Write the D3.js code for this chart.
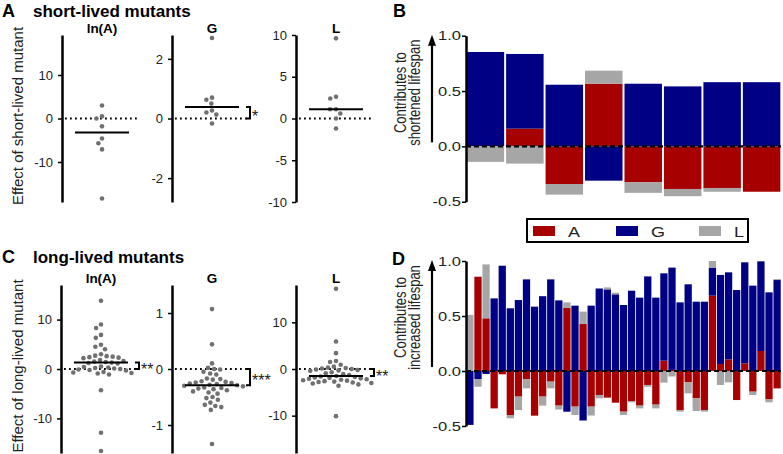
<!DOCTYPE html>
<html>
<head>
<meta charset="utf-8">
<script src="https://cdn.jsdelivr.net/npm/d3@7"></script>
<style>
  body { margin: 0; background: #fff; }
  svg { display: block; font-family: "Liberation Sans", Arial, sans-serif; }
</style>
</head>
<body>
<svg id="fig" width="783" height="454"></svg>
<script>
// effect of each mutant, short-lived (8) and long-lived (39)
const shortA = [3.0, 0.5, 0.0, -1.8, -4.6, -5.7, -7.1, -18.4]
const shortG = [2.7, 0.7, 0.63, 0.5, 0.27, 0.2, 0.13, -0.17]
const shortL = [9.6, 2.6, 2.4, 1.1, 1.1, 0.6, 0.0, -1.2]

const longA = [13.8, 9.0, 8.3, 6.9, 6.3, 4.9, 4.5, 4.0, 3.0, 2.7, 2.6, 2.5, 2.4, 2.3, 2.2,
  1.8, 1.6, 1.5, 1.4, 1.3, 1.2, 1.1, 0.5, 0.4, 0.3, 0.2, 0.1, 0.0, -0.1, -0.2, -0.3,
  -0.6, -0.7, -0.8, -0.9, -1.1, -4.3, -12.9, -16.6]
const longG = [1.07, 0.44, 0.10, 0.02, 0.0, -0.01, -0.05, -0.08, -0.1, -0.17, -0.18, -0.19,
  -0.22, -0.23, -0.24, -0.25, -0.26, -0.27, -0.28, -0.29, -0.30, -0.31, -0.33, -0.34, -0.35,
  -0.36, -0.38, -0.40, -0.42, -0.44, -0.50, -0.52, -0.55, -0.60, -0.64, -0.66, -0.73, -0.68, -1.34]
const longL = [17.2, 5.9, 3.4, 1.7, 1.5, 0.9, 0.5, 0.3, 0.2, 0.1, 0.0, -0.1, -0.2, -0.3, -0.4,
  -0.7, -0.9, -1.1, -1.3, -1.5, -1.6, -1.7, -1.8, -1.9, -2.0, -2.1, -2.2, -2.3, -2.4, -2.5,
  -2.6, -2.7, -2.8, -2.9, -3.0, -3.1, -3.3, -3.6, -10.1]

// relative contributions (B: short-lived, D: long-lived)
const keys = ['A', 'G', 'L']
const shortContribA = [0, 0.16, -0.34, 0.566, -0.325, -0.385, -0.376, -0.41]
const shortContribG = [0.853, 0.675, 0.557, -0.31, 0.566, 0.542, 0.58, 0.58]
const shortContribL = [-0.14, -0.156, -0.096, 0.118, -0.095, -0.065, -0.034, 0]

const longContribA = [0, 0.857, 0.479, -0.34, -0.03, -0.40, -0.233, -0.073, -0.406, -0.233,
  -0.097, -0.315, 0.576, -0.324, 0.427, -0.324, -0.218, -0.242, -0.288, -0.37, -0.273, -0.315,
  -0.127, -0.306, 0.094, 0.01, -0.355, -0.103, -0.248, -0.355, 0.685, 0.064, 0.106, -0.264,
  0.07, -0.188, 0.182, -0.258, -0.158]
const longContribG = [-0.49, -0.073, -0.027, 0.66, 0.957, 0.57, 0.645, 0.833, 0.585, 0.68,
  0.833, 0.642, -0.37, 0.594, -0.45, 0.594, 0.75, 0.742, 0.697, 0.60, 0.73, 0.667, 0.86,
  0.667, 0.794, 0.93, 0.624, 0.788, 0.63, 0.63, 0.255, 0.809, 0.791, 0.736, 0.918, 0.776,
  0.815, 0.715, 0.827]
const longContribL = [0.51, -0.07, 0.49, 0, 0, -0.03, -0.122, -0.085, 0, -0.082, -0.061,
  -0.035, 0.048, -0.076, 0.113, -0.081, -0.03, 0.018, 0.015, -0.03, -0.012, -0.025, -0.016,
  -0.034, -0.106, -0.05, -0.015, -0.10, -0.116, -0.015, 0.06, -0.127, -0.103, 0, 0, -0.03,
  0, -0.027, 0.009]

const colors = { A: '#a60000', G: '#000084', L: '#a6a6a6' }
const SX = 1.27 // right panels are horizontally stretched

const svg = d3.select('#fig')

function beeswarm(values, y, cx, d) {
  const pts = []
  values.map(v => ({ v, y: y(v) })).sort((a, b) => a.y - b.y).forEach(p => {
    const near = pts.filter(q => Math.abs(q.y - p.y) < d)
    const cands = [0]
    near.forEach(q => {
      const w = Math.sqrt(d * d - (q.y - p.y) ** 2)
      cands.push(q.dx - w, q.dx + w)
    })
    cands.sort((a, b) => Math.abs(a) - Math.abs(b))
    p.dx = cands.find(c => near.every(q => (q.dx - c) ** 2 + (q.y - p.y) ** 2 >= d * d - 0.01))
    pts.push(p)
  })
  return pts.map(p => ({ v: p.v, x: cx + p.dx, y: p.y }))
}

function dotPlot(cfg, top, bottom) {
  const y = d3.scaleLinear().domain(cfg.domain).range([bottom, top])
  const cx = cfg.axisX + 40
  const g = svg.append('g')

  g.append('g')
    .attr('transform', `translate(${cfg.axisX},0)`)
    .call(d3.axisLeft(y).tickValues(cfg.ticks).tickFormat(d => String(d)).tickSize(4).tickPadding(5).tickSizeOuter(0))
    .call(a => a.select('.domain').attr('stroke-width', 2.5))
    .call(a => a.selectAll('.tick line').attr('stroke-width', 1.5))
    .call(a => a.selectAll('text').attr('font-size', 13).attr('fill', '#222'))

  g.append('line')
    .attr('x1', cfg.axisX + 3).attr('x2', cfg.axisX + 78)
    .attr('y1', y(0)).attr('y2', y(0))
    .attr('stroke', '#000').attr('stroke-width', 1.8).attr('stroke-dasharray', '1.8,3.2')

  g.selectAll('circle')
    .data(beeswarm(cfg.values, y, cx, 6))
    .enter().append('circle')
    .attr('cx', d => d.x)
    .attr('cy', d => d.y)
    .attr('r', 2.3)
    .attr('fill', '#707070')

  const med = d3.median(cfg.values)
  g.append('line')
    .attr('x1', cx - 27).attr('x2', cx + 27)
    .attr('y1', y(med)).attr('y2', y(med))
    .attr('stroke', '#000').attr('stroke-width', 2)

  g.append('text')
    .attr('x', cx).attr('y', top - 2)
    .attr('text-anchor', 'middle')
    .attr('font-size', 13.5).attr('font-weight', 'bold')
    .text(cfg.name)

  if (cfg.star) {
    const bx = cfg.axisX + 74
    g.append('path')
      .attr('d', `M${bx},${y(med)}H${bx + 4}V${y(0)}H${bx}`)
      .attr('fill', 'none').attr('stroke', '#000').attr('stroke-width', 2)
    g.append('text')
      .attr('x', bx + 6).attr('y', (y(med) + y(0)) / 2 + 9)
      .attr('font-size', 16).attr('fill', '#222')
      .text(cfg.star)
  }
}

function panelTitle(letter, title, x, y) {
  svg.append('text').attr('x', x).attr('y', y)
    .attr('font-size', 18).attr('font-weight', 'bold').text(letter)
  if (title) {
    svg.append('text').attr('x', 33).attr('y', y)
      .attr('font-size', 17).attr('font-weight', 'bold').text(title)
  }
}

function yLabel(text, x, y, size, sx) {
  svg.append('g')
    .attr('transform', `translate(${x},${y}) scale(${sx},1) rotate(-90)`)
    .append('text')
    .attr('text-anchor', 'middle')
    .attr('font-size', size).attr('fill', '#222')
    .text(text)
}

// A
panelTitle('A', 'short-lived mutants', 2, 16.5)
yLabel('Effect of short-lived mutant', 23, 116, 15, 1)
;[
  { name: 'ln(A)', values: shortA, domain: [-19.2, 19.2], ticks: [-10, 0, 10], axisX: 62 },
  { name: 'G', values: shortG, domain: [-2.8, 2.8], ticks: [-2, 0, 2], axisX: 172, star: '*' },
  { name: 'L', values: shortL, domain: [-10, 10], ticks: [-10, -5, 0, 5, 10], axisX: 296 }
].forEach(c => dotPlot(c, 35, 202))

// C
panelTitle('C', 'long-lived mutants', 2, 263)
yLabel('Effect of long-lived mutant', 23, 366, 15, 1)
;[
  { name: 'ln(A)', values: longA, domain: [-17, 17], ticks: [-10, 0, 10], axisX: 61, star: '**' },
  { name: 'G', values: longG, domain: [-1.5, 1.5], ticks: [-1, 0, 1], axisX: 172, star: '***' },
  { name: 'L', values: longL, domain: [-18, 18], ticks: [-10, 0, 10], axisX: 296, star: '**' }
].forEach(c => dotPlot(c, 285, 453))

function stackedBars(aVals, gVals, lVals, top, bottom, pad, lines) {
  const rows = aVals.map((a, i) => ({ i, A: a, G: gVals[i], L: lVals[i] }))
  const series = d3.stack().keys(keys).offset(d3.stackOffsetDiverging)(rows)
  const x = d3.scaleBand().domain(rows.map(d => d.i)).range([466, 781]).paddingInner(pad).paddingOuter(pad / 3)
  const y = d3.scaleLinear().domain([-0.5, 1.0]).range([bottom, top])
  const g = svg.append('g')

  g.selectAll('g.series')
    .data(series)
    .enter().append('g')
    .attr('fill', s => colors[s.key])
    .selectAll('rect')
    .data(s => s)
    .enter().append('rect')
    .attr('x', d => x(d.data.i))
    .attr('width', x.bandwidth())
    .attr('y', d => y(Math.max(d[0], d[1])))
    .attr('height', d => Math.abs(y(d[0]) - y(d[1])))

  g.append('line')
    .attr('x1', 466).attr('x2', 781)
    .attr('y1', y(0)).attr('y2', y(0))
    .attr('stroke', '#000').attr('stroke-width', 2.2).attr('stroke-dasharray', '5,3')

  g.append('g')
    .attr('transform', 'translate(466,0)')
    .call(d3.axisLeft(y).tickValues([-0.5, 0, 0.5, 1.0]).tickFormat(d => d.toFixed(1)).tickSize(4).tickPadding(1).tickSizeOuter(0))
    .call(a => a.select('.domain').attr('stroke-width', 2.5))
    .call(a => a.selectAll('.tick line').attr('stroke-width', 1.5))
    .call(a => a.selectAll('text').attr('font-size', 13).attr('fill', '#222')
      .attr('transform', function () {
        const tx = +d3.select(this).attr('x')
        return `translate(${tx},0) scale(${SX},1) translate(${-tx},0)`
      }))

  // arrow
  g.append('line')
    .attr('x1', 432).attr('x2', 432)
    .attr('y1', y(0) - 4).attr('y2', y(1) + 8)
    .attr('stroke', '#000').attr('stroke-width', 2.2)
  g.append('path')
    .attr('d', `M432,${y(1) - 1}L436,${y(1) + 10}L428,${y(1) + 10}Z`)
    .attr('fill', '#000')

  const mid = (y(-0.5) + y(1)) / 2 - 26
  yLabel(lines[0], 406, mid, 13, SX)
  yLabel(lines[1], 420, mid, 13, SX)
}

// B
panelTitle('B', null, 393, 17)
stackedBars(shortContribA, shortContribG, shortContribL, 35.7, 201.7, 0.05, ['Contributes to', 'shortened lifespan'])

// D
panelTitle('D', null, 392, 265)
stackedBars(longContribA, longContribG, longContribL, 261, 426, 0.1, ['Contributes to', 'increased lifespan'])

// legend
const legend = svg.append('g').attr('transform', 'translate(527,219)')
legend.append('rect')
  .attr('width', 221).attr('height', 23)
  .attr('fill', '#fff').attr('stroke', '#000').attr('stroke-width', 2)
const item = legend.selectAll('g.item')
  .data(keys)
  .enter().append('g')
  .attr('class', 'item')
  .attr('transform', (d, i) => `translate(${6 + i * 83},0)`)
item.append('rect')
  .attr('y', 7).attr('width', 22).attr('height', 10)
  .attr('fill', d => colors[d])
item.append('g')
  .attr('transform', 'translate(35,17.5) scale(1.2,1)')
  .append('text')
  .attr('font-size', 15).attr('fill', '#222')
  .text(d => d)
</script>
</body>
</html>
